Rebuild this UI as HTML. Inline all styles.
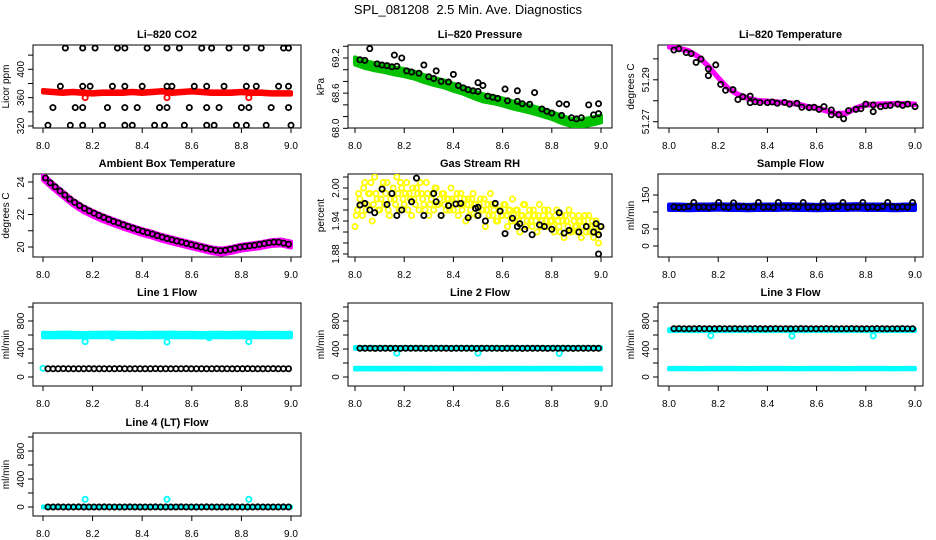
<!DOCTYPE html>
<html><head><meta charset="utf-8"><style>
html,body{margin:0;padding:0;background:#fff}
svg{display:block;font-family:"Liberation Sans",Arial,sans-serif}
</style></head><body>
<svg id="chart" width="936" height="540" viewBox="0 0 936 540" xmlns="http://www.w3.org/2000/svg">
<rect width="936" height="540" fill="#fff"/>
<text x="468" y="14" text-anchor="middle" font-size="13">SPL_081208&#160; 2.5 Min. Ave. Diagnostics</text>
<g id="panels"></g>
</svg>
<script>
// ---- data ----
const xTicks = [8.0, 8.2, 8.4, 8.6, 8.8, 9.0];
// CO2
const co2Band = [369,368,367,368,367,366,367,367,367,368,367,368,369,367,368,369,368,367,367,367,368,367,367,366,366,366];
const co2OutX = [8.17, 8.50, 8.83];
const co2OutY = [360, 360, 360];
const co2BX = [8.09,8.16,8.21,8.30,8.33,8.42,8.50,8.55,8.64,8.68,8.75,8.82,8.88,8.97,8.99,
  8.07,8.16,8.19,8.28,8.33,8.40,8.50,8.52,8.61,8.66,8.73,8.82,8.86,8.95,8.99,
  8.04,8.13,8.16,8.26,8.33,8.38,8.47,8.50,8.59,8.66,8.71,8.80,8.83,8.92,8.99,
  8.02,8.11,8.16,8.24,8.33,8.36,8.45,8.49,8.57,8.66,8.69,8.78,8.82,8.90,9.00];
const co2BY = [430,430,430,430,430,430,430,430,430,430,430,430,430,430,430,
  376,376,376,376,376,376,376,376,376,376,376,376,376,376,376,
  346,346,346,346,346,346,346,346,346,346,346,346,346,346,346,
  321,321,321,321,321,321,321,321,321,321,321,321,321,321,321];
// Pressure
const presBand = [69.15,69.09,69.05,69.02,68.98,68.95,68.91,68.85,68.80,68.76,68.70,68.65,68.58,68.52,68.49,68.45,68.40,68.36,68.32,68.27,68.22,68.15,68.10,68.09,68.12,68.16];
const presBX = [8.02,8.04,8.06,8.09,8.11,8.13,8.15,8.16,8.17,8.19,8.21,8.23,8.26,8.28,8.30,8.32,8.33,8.35,8.38,8.40,8.42,8.44,8.46,8.48,8.50,8.50,8.52,8.54,8.56,8.58,8.61,8.62,8.66,8.66,8.68,8.71,8.73,8.76,8.78,8.80,8.83,8.84,8.86,8.88,8.90,8.92,8.95,8.97,8.99,8.99];
const presBY = [69.17,69.16,69.36,69.10,69.08,69.07,69.05,69.25,69.06,69.20,68.98,68.96,68.94,69.08,68.88,68.85,68.98,68.80,68.79,68.92,68.73,68.69,68.66,68.64,68.78,68.63,68.73,68.55,68.53,68.51,68.67,68.47,68.64,68.46,68.42,68.41,68.61,68.33,68.29,68.26,68.42,68.22,68.41,68.18,68.16,68.18,68.40,68.23,68.42,68.25];
// Li-820 temperature
const tempBand = [51.3058,51.3050,51.3038,51.3010,51.2965,51.2910,51.2860,51.2830,51.2812,51.2800,51.2797,51.2793,51.2790,51.2785,51.2772,51.2765,51.2752,51.2738,51.2740,51.2765,51.2781,51.2782,51.2784,51.2786,51.2785,51.2783];
const tempBX = [8.02,8.04,8.07,8.09,8.11,8.13,8.16,8.16,8.19,8.21,8.23,8.26,8.28,8.30,8.33,8.33,8.35,8.37,8.40,8.42,8.44,8.47,8.49,8.52,8.54,8.57,8.59,8.61,8.63,8.66,8.66,8.69,8.71,8.73,8.76,8.78,8.80,8.83,8.83,8.86,8.88,8.90,8.93,8.95,8.97,9.00];
const tempBY = [51.3042,51.3048,51.3030,51.3025,51.2983,51.2999,51.2952,51.2920,51.2971,51.2878,51.2850,51.2853,51.2806,51.2819,51.2822,51.2791,51.2795,51.2791,51.2791,51.2794,51.2788,51.2792,51.2784,51.2788,51.2769,51.2767,51.2769,51.2759,51.2772,51.2756,51.2733,51.2733,51.2714,51.2753,51.2759,51.2762,51.2784,51.2780,51.2748,51.2772,51.2776,51.2778,51.2784,51.2778,51.2784,51.2772];
// Ambient box temperature
const ambBand = [24.30,23.75,23.25,22.75,22.35,22.05,21.78,21.55,21.33,21.12,20.92,20.76,20.56,20.40,20.25,20.10,19.95,19.80,19.72,19.82,19.96,20.04,20.12,20.24,20.28,20.15];
const ambBlack = [24.25,23.95,23.70,23.45,23.20,22.95,22.75,22.55,22.38,22.22,22.08,21.94,21.82,21.70,21.58,21.48,21.37,21.26,21.16,21.06,20.97,20.88,20.80,20.70,20.61,20.52,20.45,20.37,20.30,20.22,20.15,20.07,20.00,19.93,19.86,19.80,19.77,19.80,19.86,19.93,19.99,20.03,20.07,20.11,20.16,20.21,20.26,20.30,20.30,20.24,20.17];
// Gas stream RH
const rhYellowA = [1.93,1.96,1.98,1.95,2.01,1.97,1.99,1.94,2.02,1.98,1.96,2.00,1.97,2.01,1.95,1.99,1.98,2.02,1.96,2.00,
  1.97,2.01,1.99,1.95,1.98,2.00,1.96,1.99,1.97,2.01,1.95,1.98,1.96,2.00,1.97,1.95,1.99,1.96,1.98,2.00,
  1.96,1.98,1.95,1.99,1.97,1.94,1.98,1.96,1.99,1.97,1.95,1.98,1.96,1.93,1.97,1.99,1.95,1.97,1.94,1.96,
  1.95,1.97,1.93,1.96,1.98,1.94,1.96,1.92,1.95,1.97,1.94,1.96,1.93,1.95,1.92,1.97,1.94,1.96,1.93,1.95,
  1.94,1.92,1.96,1.93,1.95,1.91,1.94,1.96,1.92,1.94,1.93,1.95,1.91,1.94,1.92,1.95,1.93,1.91,1.94,1.90];
const rhYellowB = [1.95,1.99,1.97,2.00,1.96,1.99,2.01,1.97,1.99,1.96,1.98,2.01,1.99,1.96,1.98,2.00,1.97,1.99,2.01,1.98,
  1.99,1.96,1.98,2.00,1.97,1.99,2.01,1.98,1.96,1.99,1.97,1.99,2.00,1.97,1.98,1.99,1.97,1.98,1.96,1.98,
  1.97,1.99,1.97,1.96,1.98,1.97,1.95,1.98,1.97,1.95,1.97,1.96,1.98,1.96,1.95,1.97,1.96,1.94,1.96,1.95,
  1.97,1.95,1.96,1.94,1.95,1.96,1.94,1.95,1.97,1.93,1.95,1.94,1.96,1.94,1.95,1.93,1.95,1.94,1.96,1.94,
  1.93,1.95,1.94,1.92,1.94,1.95,1.93,1.92,1.95,1.93,1.92,1.94,1.93,1.95,1.93,1.92,1.94,1.93,1.92,1.93];
const rhBX = [8.02,8.04,8.06,8.08,8.11,8.13,8.15,8.17,8.19,8.23,8.25,8.28,8.32,8.33,8.35,8.38,8.41,8.43,8.46,8.49,8.50,8.50,8.53,8.57,8.59,8.61,8.64,8.66,8.67,8.69,8.72,8.75,8.77,8.80,8.83,8.85,8.87,8.91,8.94,8.97,8.98,8.99,9.00,8.99];
const rhBY = [1.969,1.972,1.960,1.955,1.998,1.970,1.990,1.950,1.960,1.975,2.018,1.950,1.990,1.975,1.950,1.968,1.971,1.972,1.946,1.963,1.965,1.950,1.940,1.972,1.958,1.917,1.945,1.930,1.935,1.925,1.915,1.933,1.930,1.925,1.955,1.918,1.923,1.920,1.930,1.920,1.935,1.915,1.930,1.880];
// Sample flow
const sfBand = [114,114,113,114,114,115,114,114,113,114,114,114,115,114,114,113,114,114,114,115,114,114,114,113,114,114];
const sfBlack = [115,113,114,116,128,114,115,113,115,128,115,114,127,115,116,114,115,128,114,115,113,128,115,114,116,115,128,114,115,114,128,115,113,116,128,114,115,115,128,114,115,113,116,128,115,114,115,114,128];
// Line flows (cyan bands and black points)
const l1Cyan = [600,598,602,600,597,601,600,603,599,600,598,601,600,602,599,600,597,601,600,598,602,600,599,601,598,600];
const l1OutX = [8.00, 8.17, 8.28, 8.50, 8.67, 8.83];
const l1OutY = [125, 505, 565, 500, 560, 505];
const l1Black = [118,117,118,119,118,117,118,118,119,117,118,118,117,118,119,118,117,118,118,117,118,119,118,118,117,118,118,119,117,118,118,117,118,119,118,118,117,118,118,119,118,117,118,118,119,117,118,118];
const l2CyanHi = [415,414,416,415,414,415,416,415,414,415,416,415,414,415,415,416,414,415,415,414,416,415,414,415,415,414];
const l2CyanLo = [120,121,120,119,120,121,120,120,119,121,120,120,121,119,120,120,121,120,119,120,121,120,120,119,120,120];
const l2OutX = [8.17, 8.50, 8.83];
const l2OutY = [340, 340, 338];
const l2Black = [410,411,410,409,410,411,410,410,409,411,410,410,411,409,410,410,411,410,409,410,411,410,410,409,410,411,410,410,409,410,411,410,409,410,410,411,410,409,410,410,411,410,409,410,410,411,410,410];
const l3CyanHi = [670,671,669,670,672,670,669,671,670,669,670,671,670,669,670,671,670,669,670,671,670,669,670,671,670,672];
const l3CyanLo = [120,121,120,119,120,121,120,120,119,121,120,120,121,119,120,120,121,120,119,120,121,120,120,119,120,120];
const l3OutX = [8.17, 8.50, 8.83];
const l3OutY = [590, 585, 588];
const l3Black = [690,691,690,689,690,691,690,690,689,691,690,690,691,689,690,690,691,690,689,690,691,690,690,689,690,691,690,690,689,690,691,690,689,690,690,691,690,689,690,690,691,690,689,690,690,691,690,690];
const l4Cyan = [0,1,0,0,1,0,0,0,1,0,0,1,0,0,0,1,0,0,0,1,0,0,1,0,0,0];
const l4OutX = [8.17, 8.50, 8.83];
const l4OutY = [110, 110, 110];
const l4Black = [0,0,1,0,0,0,1,0,0,0,0,1,0,0,0,0,1,0,0,0,0,1,0,0,0,0,1,0,0,0,0,1,0,0,0,0,1,0,0,0,0,1,0,0,0,0,1,0];

// ---- layout ----
const NS = 'http://www.w3.org/2000/svg';
const root = document.getElementById('panels');
const cols = [{l:33,r:301,x8:43,x9:291},{l:348,r:612,x8:355,x9:601},{l:658,r:923,x8:669,x9:915}];
const rows = [{t:45,b:128},{t:174,b:257},{t:303,b:386},{t:433,b:516}];
function el(tag, attrs, parent){const e=document.createElementNS(NS,tag);for(const k in attrs)e.setAttribute(k,attrs[k]);(parent||root).appendChild(e);return e;}

function makePanel(name, title, ylab, ci, ri, yref, ticks, labels){
  const c=cols[ci], r=rows[ri];
  const g=el('g',{});
  
  
  const X=v=>c.x8+(v-8)*(c.x9-c.x8);
  const Y=v=>yref[1]+(v-yref[0])*(yref[3]-yref[1])/(yref[2]-yref[0]);
  const box=el('rect',{x:c.l,y:r.t,width:c.r-c.l,height:r.b-r.t,fill:'none',stroke:'#000','stroke-width':1},g);
  
  
  const tt=el('text',{x:(c.l+c.r)/2,y:r.t-7,'text-anchor':'middle','font-size':11,'font-weight':'bold'},g);
  tt.textContent=title;
  
  
  const yl=el('text',{transform:`translate(${c.l-24},${(r.t+r.b)/2}) rotate(-90)`,'text-anchor':'middle','font-size':10},g);
  yl.textContent=ylab;
  
  
  xTicks.forEach(v=>{
    el('line',{x1:X(v),x2:X(v),y1:r.b,y2:r.b+5,stroke:'#000'},g);
    const t=el('text',{x:X(v),y:r.b+21,'text-anchor':'middle','font-size':10},g);
    t.textContent=v.toFixed(1);
    
    
  });
  ticks.forEach(v=>{
    const y=Y(v); if(y<r.t-2||y>r.b+2) return;
    el('line',{x1:c.l-5,x2:c.l,y1:y,y2:y,stroke:'#000'},g);
  });
  labels.forEach(s=>{
    const y=Y(parseFloat(s));
    const t=el('text',{transform:`translate(${c.l-9},${y}) rotate(-90)`,'text-anchor':'middle','font-size':10},g);
    t.textContent=s;
    
    
  });
  const cl=el('clipPath',{id:'clip-'+name},g);
  el('rect',{x:c.l,y:r.t,width:c.r-c.l,height:r.b-r.t},cl);
  const plot=el('g',{'clip-path':`url(#clip-${name})`},g);
  return {X,Y,g:plot};
}
function band(p, vals, spread, color, name){
  const n=vals.length, xs=vals.map((v,i)=>8+i/(n-1));
  let pts=xs.map((x,i)=>p.X(x)+','+p.Y(vals[i]+spread));
  pts=pts.concat(xs.map((x,i)=>p.X(x)+','+p.Y(vals[i]-spread)).reverse());
  const e=el('polygon',{points:pts.join(' '),fill:color,stroke:color,'stroke-width':4,'stroke-linejoin':'round'},p.g);
  
  
}
function pts(p, xs, ys, color, name){
  ys.forEach((v,i)=>{
    const c=el('circle',{cx:p.X(xs[i]),cy:p.Y(v),r:2.6,fill:'none',stroke:color,'stroke-width':1.8},p.g);
    
    
  });
}
function idxX(n,a,b){return Array.from({length:n},(_,i)=>a+(b-a)*i/(n-1));}

// Li-820 CO2
let p=makePanel('co2','Li\u2013820 CO2','Licor ppm',0,0,[320,126,400,69.3],[320,340,360,380,400,420],['320','360','400']);
band(p,co2Band,1.8,'#ff0000','co2-series');
pts(p,co2OutX,co2OutY,'#ff0000','co2-outlier');
pts(p,co2BX,co2BY,'#000','co2-black-point');
// Pressure
p=makePanel('pressure','Li\u2013820 Pressure','kPa',1,0,[68.0,128.3,69.2,58],[68.0,68.2,68.4,68.6,68.8,69.0,69.2,69.4],['68.0','68.6','69.2']);
band(p,presBand,0.06,'#00c000','pressure-series');
pts(p,presBX,presBY,'#000','pressure-black-point');
// Temperature
p=makePanel('temperature','Li\u2013820 Temperature','degrees C',2,0,[51.27,121.7,51.29,79.8],[51.27,51.28,51.29,51.30],['51.27','51.29']);
band(p,tempBand,0.0004,'#ff00ff','temperature-series');
pts(p,tempBX,tempBY,'#000','temperature-black-point');
// Ambient
p=makePanel('ambient','Ambient Box Temperature','degrees C',0,1,[20,247,24,182],[20,21,22,23,24],['20','22','24']);
band(p,ambBand,0.18,'#ff00ff','ambient-series');
pts(p,idxX(ambBlack.length,8.01,8.99),ambBlack,'#000','ambient-black-point');
// RH
p=makePanel('rh','Gas Stream RH','percent',1,1,[1.88,254,2.00,188],[1.88,1.90,1.92,1.94,1.96,1.98,2.00,2.02],['1.88','1.94','2.00']);
pts(p,idxX(rhYellowA.length,8.0,8.99),rhYellowA,'#ffff00','rh-yellow-point');
pts(p,idxX(rhYellowB.length,8.005,8.995),rhYellowB,'#ffff00','rh-yellow-point');
pts(p,rhBX,rhBY,'#000','rh-black-point');
// Sample flow
p=makePanel('sample-flow','Sample Flow','ml/min',2,1,[0,246,150,195],[0,50,100,150],['0','50','150']);
band(p,sfBand,8,'#0000ff','sample-flow-series');
pts(p,idxX(sfBlack.length,8.02,8.99),sfBlack,'#000','sample-flow-black-point');
// Line flows
const fT=[0,200,400,600,800,1000], fL=['0','400','800'];
p=makePanel('line1','Line 1 Flow','ml/min',0,2,[0,377,800,321],fT,fL);
band(p,l1Cyan,32,'#00ffff','line1-cyan-series');
pts(p,l1OutX,l1OutY,'#00ffff','line1-cyan-outlier');
pts(p,idxX(l1Black.length,8.02,8.99),l1Black,'#000','line1-black-point');
p=makePanel('line2','Line 2 Flow','ml/min',1,2,[0,377,800,321],fT,fL);
band(p,l2CyanHi,12,'#00ffff','line2-cyan-high');
band(p,l2CyanLo,12,'#00ffff','line2-cyan-low');
pts(p,l2OutX,l2OutY,'#00ffff','line2-cyan-outlier');
pts(p,idxX(l2Black.length,8.02,8.99),l2Black,'#000','line2-black-point');
p=makePanel('line3','Line 3 Flow','ml/min',2,2,[0,377,800,321],fT,fL);
band(p,l3CyanHi,14,'#00ffff','line3-cyan-high');
band(p,l3CyanLo,10,'#00ffff','line3-cyan-low');
pts(p,l3OutX,l3OutY,'#00ffff','line3-cyan-outlier');
pts(p,idxX(l3Black.length,8.02,8.99),l3Black,'#000','line3-black-point');
p=makePanel('line4','Line 4 (LT) Flow','ml/min',0,3,[0,507,800,451],fT,fL);
band(p,l4Cyan,8,'#00ffff','line4-cyan-series');
pts(p,l4OutX,l4OutY,'#00ffff','line4-cyan-outlier');
pts(p,idxX(l4Black.length,8.02,8.99),l4Black,'#000','line4-black-point');
</script>
</body></html>
